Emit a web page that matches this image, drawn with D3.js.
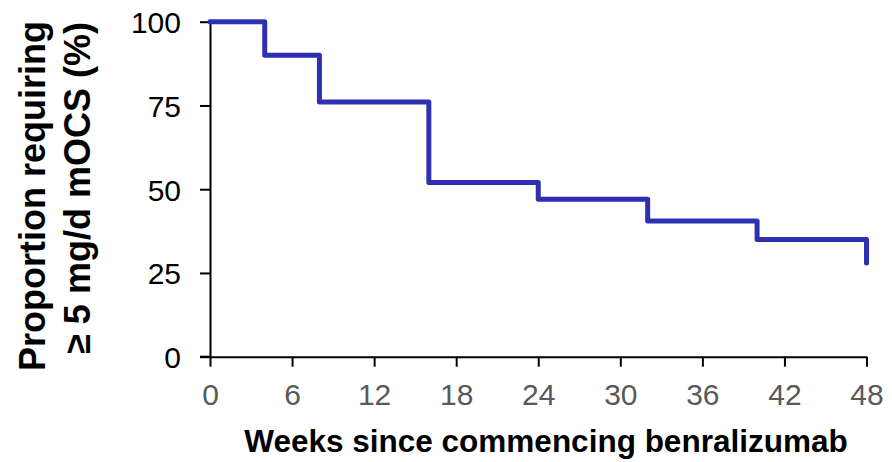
<!DOCTYPE html>
<html><head><meta charset="utf-8">
<script src="https://cdn.jsdelivr.net/npm/d3@7"></script>
<style>body{margin:0;background:#fff}svg{display:block}</style>
</head><body>
<script>
const weeks = [0, 4, 8, 16, 24, 32, 40, 48];
const proportion = [100, 90, 76, 52, 47, 40.5, 35, 28];
const xTicks = [0, 6, 12, 18, 24, 30, 36, 42, 48];
const yTicks = [0, 25, 50, 75, 100];
const xTitle = "Weeks since commencing benralizumab";
const yTitleLines = ["Proportion requiring", "\u2265 5 mg/d mOCS (%)"];

const W = 892, H = 462;
const svg = d3.select("body").append("svg").attr("width", W).attr("height", H);
const x = d3.scaleLinear().domain([0, 48]).range([210, 866.5]);
const y = d3.scaleLinear().domain([0, 100]).range([356.7, 21.7]);
const font = "Arial, 'Liberation Sans', Helvetica, sans-serif";

// y axis
const gy = svg.append("g").attr("transform", `translate(${x(0)},0)`)
  .call(d3.axisLeft(y).tickValues(yTicks).tickSize(10).tickSizeOuter(0).tickPadding(19));
gy.select(".domain").attr("stroke", "#000").attr("stroke-width", 2);
gy.selectAll(".tick line").attr("stroke", "#000").attr("stroke-width", 2);
gy.selectAll(".tick text").attr("font-family", font).attr("font-size", 30).attr("fill", "#000").attr("dy", "0.36em");

// x axis
const gx = svg.append("g").attr("transform", `translate(0,${y(0)})`)
  .call(d3.axisBottom(x).tickValues(xTicks).tickSize(10).tickSizeOuter(0));
gx.select(".domain").attr("stroke", "#000").attr("stroke-width", 2);
gx.selectAll(".tick line").attr("stroke", "#000").attr("stroke-width", 2);
gx.selectAll(".tick text").attr("font-family", font).attr("font-size", 30).attr("fill", "#595959")
  .attr("y", 48.5).attr("dy", 0);
svg.append("line").attr("x1", x(0) - 10).attr("x2", x(0)).attr("y1", y(0)).attr("y2", y(0))
  .attr("stroke", "#000").attr("stroke-width", 2);

// step line
const data = weeks.map((w, i) => [w, proportion[i]]);
svg.append("path").datum(data)
  .attr("fill", "none").attr("stroke", "#2F2FB1").attr("stroke-width", 5)
  .attr("stroke-linejoin", "round").attr("stroke-linecap", "round")
  .attr("d", d3.line().x(d => x(d[0])).y(d => y(d[1])).curve(d3.curveStepAfter));

// titles
svg.append("text").attr("x", 546).attr("y", 452).attr("text-anchor", "middle")
  .attr("font-family", font).attr("font-weight", "bold").attr("font-size", 31.5).attr("fill", "#000")
  .text(xTitle);
const yCenters = [196, 188];
const yBase = [45, 90];
yTitleLines.forEach((t, i) => {
  svg.append("text").attr("transform", `translate(${yBase[i]},${yCenters[i]}) rotate(-90)`)
    .attr("text-anchor", "middle").attr("font-family", font).attr("font-weight", "bold")
    .attr("font-size", 36).attr("fill", "#000").text(t);
});
</script>
</body></html>
